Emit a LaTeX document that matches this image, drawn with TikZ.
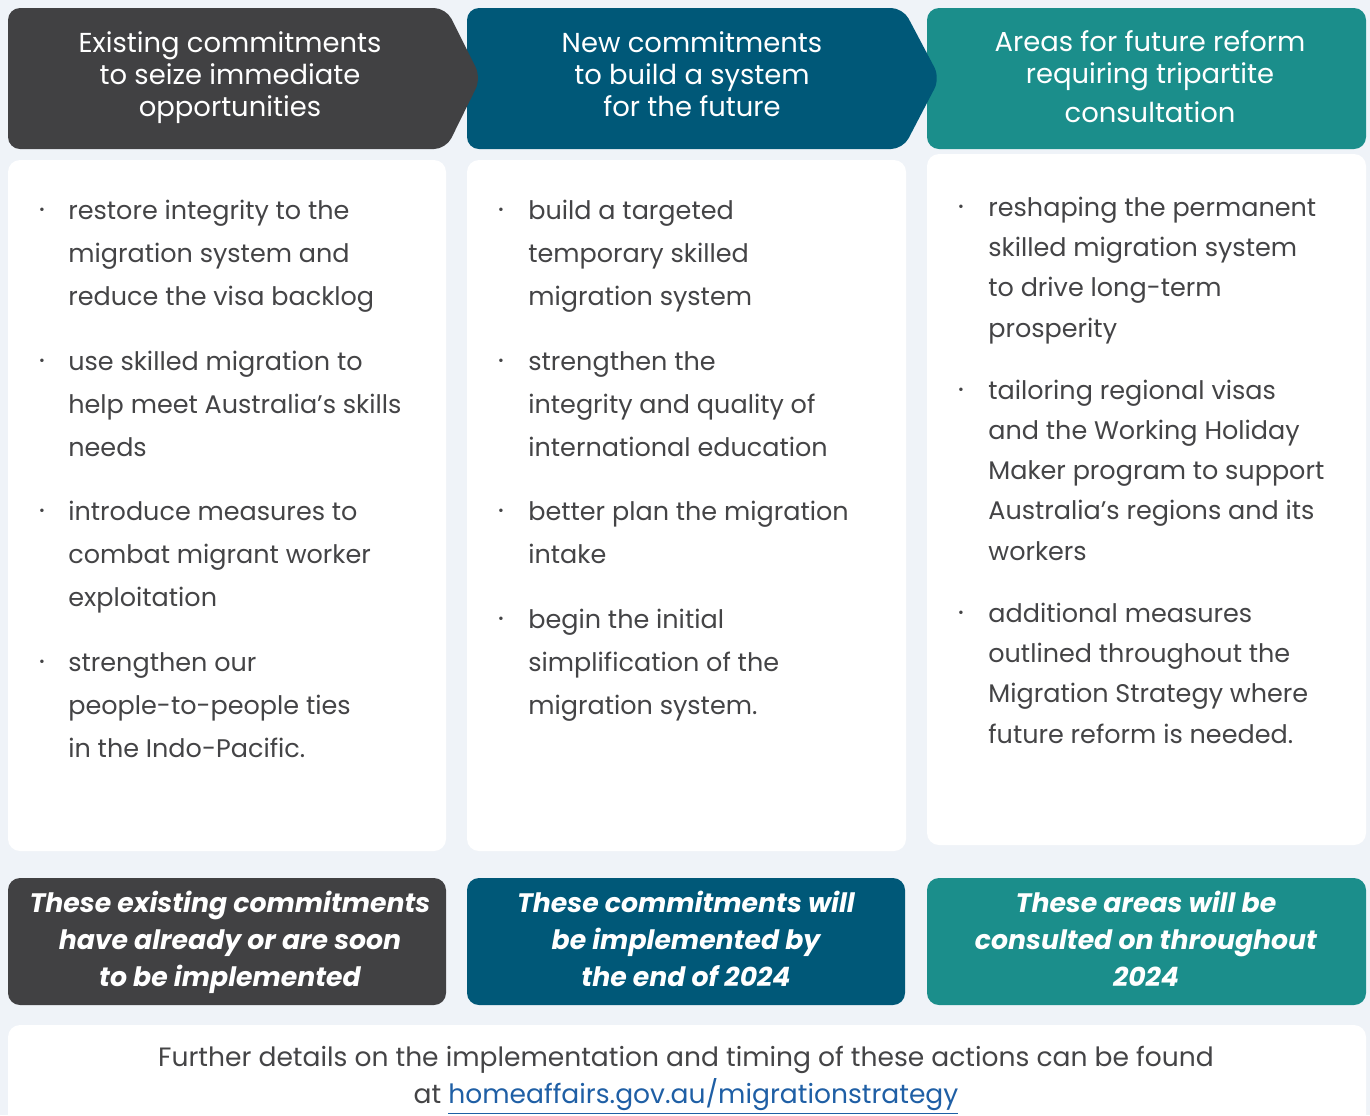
\documentclass[tikz,border=0pt]{standalone}
\usepackage{fontspec}
\setmainfont{Poppins}
\usetikzlibrary{positioning}
\definecolor{pagebg}{HTML}{EFF3F8}
\definecolor{slate}{HTML}{414143}
\definecolor{navy}{HTML}{005878}
\definecolor{teal2}{HTML}{1B8E8B}
\definecolor{bodytext}{HTML}{444446}
\definecolor{linkblue}{HTML}{1F5FA5}

\begin{document}
\begin{tikzpicture}[x=0.2mm, y=-0.2mm,
    round/.style={rounded corners=2.4mm},
    head/.style={text=white, align=center, font=\fontsize{15.6}{18.2}\selectfont},
    foot/.style={text=white, align=center, font=\fontsize{15.2}{21}\selectfont\bfseries\itshape},
    item/.style={text=bodytext, align=left, anchor=base west, inner sep=0pt, font=\fontsize{14.5}{24.2}\selectfont},
    itemb/.style={item, font=\fontsize{14.5}{22.8}\selectfont},
    dot/.style={text=bodytext, inner sep=0pt, font=\fontsize{8}{8}\selectfont}]
    \useasboundingbox (0,0) rectangle (1370,1115);
    \fill[pagebg] (0,0) rectangle (1370,1115);

    % headers, drawn right to left so each tip lies on the next box
    \fill[teal2, round] (927,8) rectangle (1366,149);
    \fill[navy, round] (467,8) -- (903,8) -- (940,78) -- (903,149) -- (467,149) -- cycle;
    \fill[slate, round] (8,8) -- (446,8) -- (481,78) -- (446,149) -- (8,149) -- cycle;
    \node[head] (h1) at (230,78) {Existing commitments\\to seize immediate\\opportunities};
    \node[head] (h2) at (692,74) {New commitments\\to build a system\\for the future};
    \node[head] (h3) at (1150,77) {Areas for future reform\\requiring tripartite\\[4pt]consultation};

    % cards (item nodes sit on the baseline of their last line)
    \fill[white, round] (8,160) rectangle (446,851);
    \fill[white, round] (467,160) rectangle (906,851);
    \fill[white, round] (927,154) rectangle (1366,845);

    \node[dot] (d11) at (42,211) {\textbullet};
    \node[item] (i11) at (68,305) {restore integrity to the\\migration system and\\reduce the visa backlog};
    \node[dot] (d12) at (42,362) {\textbullet};
    \node[item] (i12) at (68,456) {use skilled migration to\\help meet Australia’s skills\\needs};
    \node[dot] (d13) at (42,512) {\textbullet};
    \node[item] (i13) at (68,606) {introduce measures to\\combat migrant worker\\exploitation};
    \node[dot] (d14) at (42,663) {\textbullet};
    \node[item] (i14) at (68,757) {strengthen our\\people-to-people ties\\in the Indo-Pacific.};

    \node[dot] (d21) at (501,211) {\textbullet};
    \node[item] (i21) at (528,305) {build a targeted\\temporary skilled\\migration system};
    \node[dot] (d22) at (501,362) {\textbullet};
    \node[item] (i22) at (528,456) {strengthen the\\integrity and quality of\\international education};
    \node[dot] (d23) at (501,512) {\textbullet};
    \node[item] (i23) at (528,563) {better plan the migration\\intake};
    \node[dot] (d24) at (501,620) {\textbullet};
    \node[item] (i24) at (528,714) {begin the initial\\simplification of the\\migration system.};

    \node[dot] (d31) at (961,208) {\textbullet};
    \node[itemb] (i31) at (988,337) {reshaping the permanent\\skilled migration system\\to drive long-term\\prosperity};
    \node[dot] (d32) at (961,391) {\textbullet};
    \node[itemb] (i32) at (988,560) {tailoring regional visas\\and the Working Holiday\\Maker program to support\\Australia’s regions and its\\workers};
    \node[dot] (d33) at (961,614) {\textbullet};
    \node[itemb] (i33) at (988,743) {additional measures\\outlined throughout the\\Migration Strategy where\\future reform is needed.};

    % footers
    \fill[slate, round] (8,878) rectangle (446,1005);
    \fill[navy, round] (467,878) rectangle (905,1005);
    \fill[teal2, round] (927,878) rectangle (1366,1005);
    \node[foot] (f1) at (230,942) {These existing commitments\\have already or are soon\\to be implemented};
    \node[foot] (f2) at (686,939) {These commitments will\\be implemented by\\the end of 2024};
    \node[foot] (f3) at (1146,939) {These areas will be\\consulted on throughout\\2024};

    \fill[white, round] (8,1025) rectangle (1366,1140);
    \node[text=bodytext, align=center, font=\fontsize{15.1}{21}\selectfont] (note) at (686,1080)
        {Further details on the implementation and timing of these actions can be found\\at {\color{linkblue}\underline{homeaffairs.gov.au/migrationstrategy}}};
\end{tikzpicture}
\end{document}
